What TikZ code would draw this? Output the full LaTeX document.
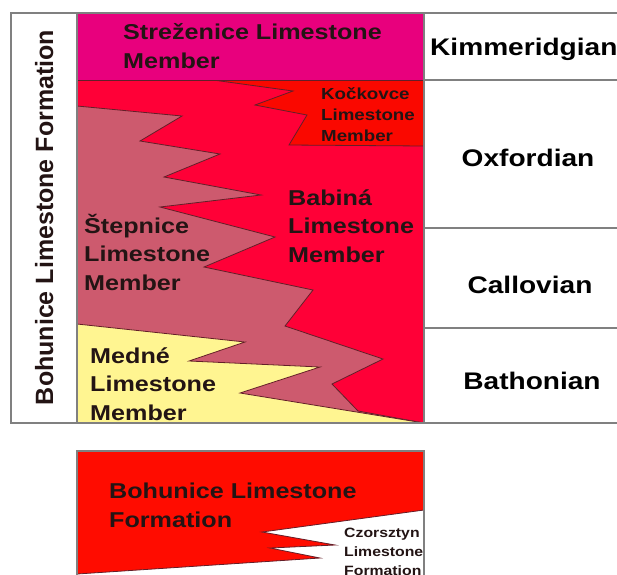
\documentclass[tikz,border=0pt]{standalone}
\usepackage{fontspec}
\newfontfamily\lab{Liberation Sans}[FakeStretch=1.17]
\newfontfamily\labr{Liberation Sans}
\definecolor{strez}{RGB}{232,0,125}
\definecolor{babina}{RGB}{255,0,55}
\definecolor{kock}{RGB}{250,8,0}
\definecolor{stepn}{RGB}{205,90,110}
\definecolor{medne}{RGB}{255,245,145}
\definecolor{bohu}{RGB}{255,12,0}
\definecolor{edgec}{RGB}{100,30,40}
\definecolor{framec}{RGB}{128,128,128}
\definecolor{ink}{RGB}{35,20,20}
\tikzset{
  unit/.style={draw=edgec, line width=0.8pt, line join=miter},
  framel/.style={draw=framec, line width=1.2pt},
  lbl/.style={font=\lab\bfseries\fontsize{21.5}{28.5}\selectfont, text=ink, inner sep=0pt, align=left},
  smalllbl/.style={font=\lab\bfseries\fontsize{16}{21}\selectfont, text=ink, inner sep=0pt, align=left},
  tinylbl/.style={font=\lab\bfseries\fontsize{13.5}{19}\selectfont, text=ink, inner sep=0pt, align=left},
  stagelbl/.style={font=\lab\bfseries\fontsize{24}{28}\selectfont, text=black, inner sep=0pt},
}
\begin{document}
\begin{tikzpicture}[x=1pt,y=-1pt]
\useasboundingbox (0,0) rectangle (617,574);
\clip (0,0) rectangle (617,574);
% strata column
\fill[babina] (77,80) rectangle (424,423);
\path[unit, fill=kock] (213,80) -- (293,91) -- (255,105) -- (307,115) -- (289,145) -- (424,146) -- (424,80) -- cycle;
\path[unit, fill=stepn] (77,106) -- (182,116) -- (140,141) -- (220,154) -- (164,177) -- (261,195) -- (160,207) -- (275,237) -- (204,267) -- (313,290) -- (285,326) -- (383,359) -- (332,384) -- (358,411) -- (424,423) -- (77,423) -- cycle;
\path[unit, fill=medne] (77,324) -- (245,342) -- (189,361) -- (320,367) -- (240,393) -- (424,423) -- (77,423) -- cycle;
\path[unit, fill=strez] (77,13) rectangle (424,80);
% frame
\path[framel] (11,13) rectangle (77,423);
\path[framel] (424,13) -- (424,423);
\path[framel] (11,13) -- (617,13);
\path[framel] (424,80) -- (617,80);
\path[framel] (424,228) -- (617,228);
\path[framel] (424,328) -- (617,328);
\path[framel] (11,423) -- (617,423);
% labels (anchor = baseline of last line)
\node[lbl, anchor=base west] (strezt) at (123,68) {Streženice Limestone\\Member};
\node[smalllbl, anchor=base west] (kockt) at (321,141) {Kočkovce\\Limestone\\Member};
\node[lbl, anchor=base west] (babt) at (288,262) {Babiná\\Limestone\\Member};
\node[lbl, anchor=base west] (stept) at (84,290) {Štepnice\\Limestone\\Member};
\node[lbl, anchor=base west] (mednt) at (90,420) {Medné\\Limestone\\Member};
\node[font=\labr\bfseries\fontsize{25}{28}\selectfont, text=ink, inner sep=0pt, rotate=90, anchor=base] (formt) at (53,217.5) {Bohunice Limestone Formation};
\node[stagelbl, anchor=base west] (kim) at (430,55) {Kimmeridgian};
\node[stagelbl, anchor=base] (oxf) at (528,166) {Oxfordian};
\node[stagelbl, anchor=base] (cal) at (530,293) {Callovian};
\node[stagelbl, anchor=base] (bat) at (532,389) {Bathonian};
% lower panel
\path[unit, fill=bohu] (77,451) -- (424,451) -- (424,510) -- (262,532) -- (335,545) -- (270,548) -- (320,558) -- (77,574) -- cycle;
\path[framel] (77,576) -- (77,451) -- (424,451) -- (424,576);
\node[lbl, anchor=base west] (boht) at (109,527) {Bohunice Limestone\\Formation};
\node[tinylbl, anchor=base west] (czt) at (344,575) {Czorsztyn\\Limestone\\Formation};
\end{tikzpicture}
\end{document}
